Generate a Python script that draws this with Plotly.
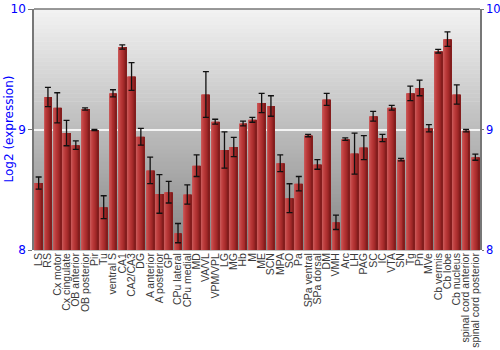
import plotly.graph_objects as go

categories = ["LS", "RS", "Cx motor", "Cx cingulate", "OB anterior", "OB posterior", "Pir", "Tu",
              "ventral S", "CA1", "CA2/CA3", "DG", "A anterior", "A posterior", "GP", "CPu lateral",
              "CPu medial", "MD", "VA/VL", "VPM/VPL", "LG", "MG", "Hb", "M", "ME", "SCN", "MPA", "SO",
              "Pa", "SPa ventral", "SPa dorsal", "DM", "VMH", "Arc", "LH", "PAG", "SC", "IC", "VTA",
              "SN", "Tg", "Pn", "MVe", "Cb vermis", "Cb lobe", "Cb nucleus", "spinal cord anterior",
              "spinal cord posterior"]

values = [8.556, 9.27, 9.18, 8.97, 8.87, 9.17, 8.995, 8.355,
          9.30, 9.685, 9.44, 8.94, 8.66, 8.465, 8.48, 8.14,
          8.46, 8.70, 9.29, 9.065, 8.83, 8.855, 9.05, 9.08, 9.22, 9.195, 8.72, 8.43,
          8.55, 8.95, 8.71, 9.25, 8.23, 8.92, 8.80, 8.85, 9.11, 8.93, 9.18,
          8.75, 9.30, 9.345, 9.01, 9.65, 9.75, 9.29, 8.99,
          8.77]

errors = [0.05, 0.08, 0.125, 0.105, 0.035, 0.01, 0.005, 0.095,
          0.03, 0.018, 0.115, 0.07, 0.11, 0.16, 0.09, 0.08,
          0.08, 0.09, 0.19, 0.02, 0.15, 0.08, 0.02, 0.02, 0.08, 0.085, 0.07, 0.12,
          0.06, 0.01, 0.04, 0.05, 0.06, 0.01, 0.17, 0.10, 0.04, 0.03, 0.02,
          0.01, 0.06, 0.065, 0.03, 0.015, 0.06, 0.08, 0.01,
          0.025]

y_ticks = [8, 9, 10]
y_title = "Log2 (expression)"

L, R, T, B = 34, 20, 9, 100
W, H = 500, 350
plot_w = W - L - R

fig = go.Figure()

# Bars rendered as vertical strips to imitate the horizontal shading
bar_w = 0.84
strip_colors = ["#c75656", "#c44848", "#bd3e3e", "#b63636", "#ae3030", "#a42a2a", "#962424", "#841d1d"]
n = len(strip_colors)
sw = bar_w / n
for k, col in enumerate(strip_colors):
    fig.add_trace(go.Bar(
        x=categories, y=values, base=0,
        width=sw + 0.01, offset=-bar_w / 2 + k * sw,
        marker=dict(color=col, line=dict(width=0)),
        hoverinfo="skip", showlegend=False,
    ))

# Error bars on top
fig.add_trace(go.Scatter(
    x=categories, y=values, mode="markers",
    marker=dict(size=1, color="rgba(0,0,0,0)"),
    error_y=dict(type="data", array=errors, visible=True, color="#111111", thickness=1.3, width=3),
    showlegend=False,
))

# invisible trace for right axis
fig.add_trace(go.Scatter(x=[categories[0]], y=[values[0]], yaxis="y2", mode="markers",
                         marker=dict(size=1, color="rgba(0,0,0,0)"), showlegend=False, hoverinfo="skip"))

# gradient background
shapes = []
steps = 60
top = (0xf2, 0xf2, 0xf2)
bot = (0x86, 0x86, 0x86)
for i in range(steps):
    t = i / (steps - 1)
    c = tuple(int(round(top[j] + (bot[j] - top[j]) * t)) for j in range(3))
    y1 = 1 - i / steps
    y0 = 1 - (i + 1) / steps
    shapes.append(dict(type="rect", xref="paper", yref="paper", x0=0, x1=1, y0=y0 - 0.002, y1=y1,
                       fillcolor="rgb(%d,%d,%d)" % c, line=dict(width=0), layer="below"))
shapes.append(dict(type="line", xref="paper", yref="paper", x0=0, x1=1, y0=1, y1=1,
                   line=dict(color="#777777", width=1.5), layer="above"))

fig.update_layout(
    width=W, height=H,
    margin=dict(l=L, r=R, t=T, b=B),
    paper_bgcolor="white", plot_bgcolor="rgba(0,0,0,0)",
    barmode="overlay",
    shapes=shapes,
    font=dict(family="DejaVu Sans"),
    xaxis=dict(
        type="category", tickangle=-90, showgrid=False, showline=False, ticks="",
        tickmode="array", tickvals=categories, ticktext=categories,
        tickfont=dict(family="Liberation Sans, Arial", size=10.5, color="#3a3a3a"),
        range=[-0.5, len(categories) - 0.5], automargin=False,
    ),
    yaxis=dict(
        range=[8, 10], tickvals=y_ticks, ticktext=[str(v) for v in y_ticks],
        showgrid=True, gridcolor="#f4f4f4", gridwidth=1.5, zeroline=False,
        showline=True, linecolor="#777777", linewidth=1.5,
        ticks="outside", ticklen=4, tickcolor="#777777",
        tickfont=dict(color="#0000ff", size=12), automargin=False,
    ),
    yaxis2=dict(
        range=[8, 10], tickvals=y_ticks, overlaying="y", side="right",
        showgrid=False, zeroline=False, showline=True, linecolor="#777777", linewidth=1.5,
        ticks="outside", ticklen=2, tickcolor="#777777",
        tickfont=dict(color="#0000ff", size=11.5), automargin=False,
    ),
    annotations=[dict(
        text=y_title, xref="paper", yref="paper", x=(8 - L) / plot_w, y=0.5,
        xanchor="center", yanchor="middle", textangle=-90, showarrow=False,
        font=dict(color="#0000ff", size=12, family="DejaVu Sans"),
    )],
)

fig.write_html("out.html")
